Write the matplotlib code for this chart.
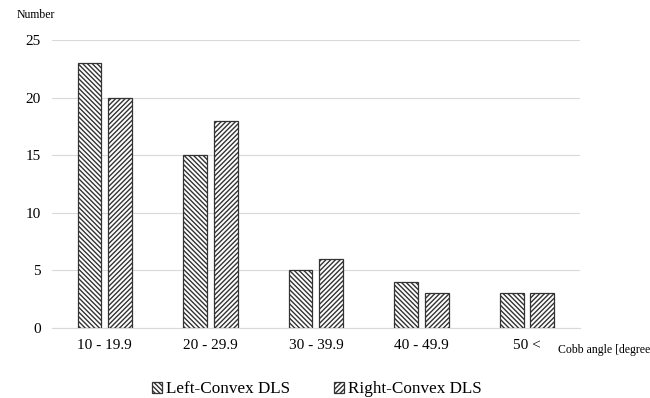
import matplotlib.pyplot as plt
import numpy as np

categories = ["10 - 19.9", "20 - 29.9", "30 - 39.9", "40 - 49.9", "50 <"]
left_convex = [23, 15, 5, 4, 3]
right_convex = [20, 18, 6, 3, 3]

plt.rcParams['font.family'] = ['Liberation Serif', 'DejaVu Serif']
plt.rcParams['hatch.linewidth'] = 1.0

fig = plt.figure(figsize=(6.5, 3.98), dpi=100)
ax = fig.add_axes([0.08, 0.176, 0.812, 0.723])

x = np.arange(len(categories))
w = 0.225
ax.bar(x - 0.145, left_convex, w, color='white', edgecolor='#333333',
       hatch='\\' * 7, linewidth=0.9, label='Left-Convex DLS', zorder=3)
ax.bar(x + 0.145, right_convex, w, color='white', edgecolor='#333333',
       hatch='/' * 7, linewidth=0.9, label='Right-Convex DLS', zorder=3)

ax.set_xlim(-0.5, 4.5)
ax.set_ylim(0, 25)
ax.set_yticks([0, 5, 10, 15, 20, 25])
ax.set_xticks(x)
ax.set_xticklabels(categories)
ax.tick_params(length=0, labelsize=11, pad=8)
ax.grid(axis='y', color='#d9d9d9', linewidth=0.8, zorder=0)
for s in ['top', 'right', 'left']:
    ax.spines[s].set_visible(False)
ax.spines['bottom'].set_color('#d9d9d9')

fig.text(0.025, 0.955, "Number", fontsize=8.5)
fig.text(0.858, 0.113, "Cobb angle [degree", fontsize=8.5)

fig.legend(loc='lower center', bbox_to_anchor=(0.487, -0.037), ncol=2,
           frameon=False, fontsize=12.3, handlelength=0.6, handleheight=0.6,
           handletextpad=0.2, columnspacing=2.6)

fig.savefig("out.png", dpi=100)
